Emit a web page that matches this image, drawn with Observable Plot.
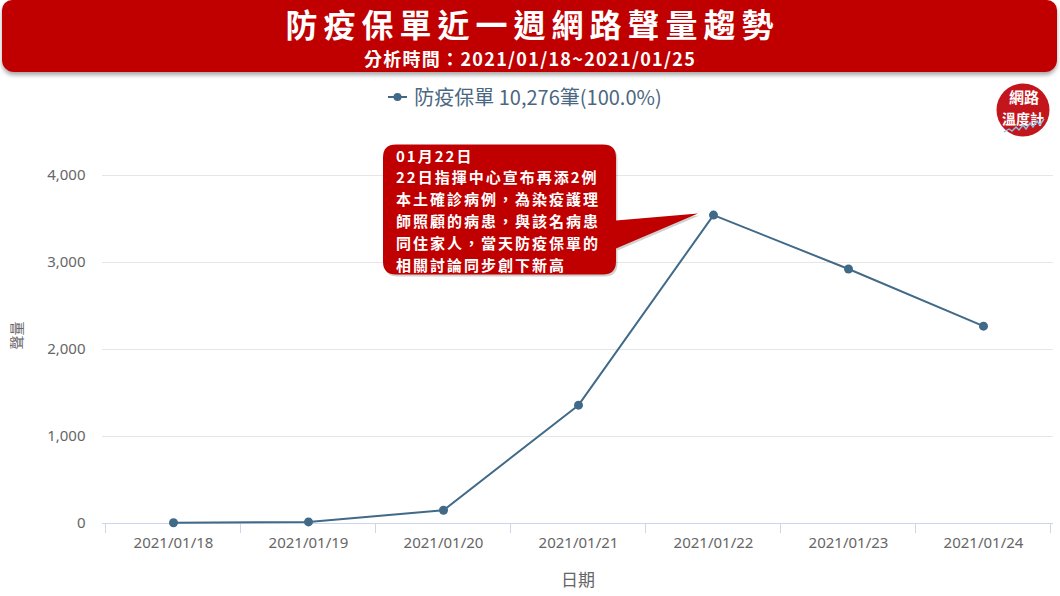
<!DOCTYPE html>
<html><head><meta charset="utf-8">
<script src="https://cdn.jsdelivr.net/npm/d3@7"></script>
<script src="https://cdn.jsdelivr.net/npm/@observablehq/plot@0.6"></script>
<style>
body{margin:0;background:#fff;font-family:"Noto Sans CJK TC","Noto Sans",sans-serif;}
#wrap{position:relative;width:1060px;height:596px;overflow:hidden;background:#fff;}
#header{position:absolute;left:2px;top:0;width:1055px;height:72px;background:#c00000;border-radius:10px 10px 12px 12px;box-shadow:0 3px 4px rgba(0,0,0,0.35);color:#fff;text-align:center;z-index:2;}
#title{position:absolute;top:5px;left:6px;right:0;font-size:32px;font-weight:bold;line-height:36px;letter-spacing:6px;}
#subtitle{position:absolute;top:48px;left:1px;right:0;font-size:18px;font-weight:bold;line-height:21px;letter-spacing:1.3px;}
#chart{position:absolute;left:0;top:80px;}
#legend{position:absolute;top:84px;left:-5px;width:1060px;display:flex;justify-content:center;align-items:center;color:#4a6781;font-size:20px;line-height:26px;z-index:2;}
#legend svg{margin-right:6px;}
#logo{position:absolute;left:996px;top:83px;z-index:2;}
</style>
</head><body>
<div id="wrap">
  <div id="header"><div id="title"></div><div id="subtitle"></div></div>
  <div id="legend"></div>
  <svg id="logo" width="54" height="54" viewBox="0 0 54 54">
    <circle cx="27" cy="27" r="26.5" fill="#c3161c"/>
    <text x="28" y="20" text-anchor="middle" fill="#fff" font-size="15" font-weight="bold" font-family="Noto Sans CJK TC">網路</text>
    <text x="27" y="41" text-anchor="middle" fill="#fff" font-size="14" font-weight="bold" font-family="Noto Sans CJK TC">溫度計</text>
    <polyline points="8,49 13,46 16,48 20,44 23,47 27,42 30,46 34,40 37,44 41,38 44,42 48,36" fill="none" stroke="#8cc0e6" stroke-width="1.4"/>
  </svg>
  <div id="chart"></div>
</div>
<script>
const titleText = "防疫保單近一週網路聲量趨勢";
const subtitleText = "分析時間：2021/01/18~2021/01/25";
const seriesName = "防疫保單";
const dates = ["2021/01/18","2021/01/19","2021/01/20","2021/01/21","2021/01/22","2021/01/23","2021/01/24"];
const values = [8, 18, 152, 1360, 3545, 2925, 2268];
const yTicks = [0, 1000, 2000, 3000, 4000];
const yLabel = "聲量";
const xLabel = "日期";
const calloutDate = "2021/01/22";
const calloutLines = ["01月22日","22日指揮中心宣布再添2例","本土確診病例，為染疫護理","師照顧的病患，與該名病患","同住家人，當天防疫保單的","相關討論同步創下新高"];

const lineColor = "#416a88";
document.getElementById("title").textContent = titleText;
document.getElementById("subtitle").textContent = subtitleText;
const total = d3.sum(values);
const legend = document.getElementById("legend");
legend.innerHTML = `<svg width="20" height="12"><line x1="0" x2="19" y1="6" y2="6" stroke="${lineColor}" stroke-width="2"/><circle cx="9.5" cy="6" r="4" fill="${lineColor}"/></svg><span></span>`;
legend.querySelector("span").textContent = `${seriesName} ${d3.format(",")(total)}筆(${(100).toFixed(1)}%)`;

const rows = dates.map((d, i) => ({date: d, value: values[i]}));

const boundaryTicks = (index, scales) => {
  const x = scales.x, y = scales.y;
  const step = x(dates[1]) - x(dates[0]);
  const y0 = y(0);
  const g = d3.create("svg:g");
  for (let i = 0; i <= dates.length; i++) {
    const tx = x(dates[0]) + (i - 0.5) * step;
    g.append("line").attr("x1", tx).attr("x2", tx).attr("y1", y0).attr("y2", y0 + 10)
      .attr("stroke", "#ccd6eb").attr("stroke-width", 1);
  }
  return g.node();
};

const callout = (index, scales) => {
  const x = scales.x, y = scales.y;
  const px = x(calloutDate), py = y(values[dates.indexOf(calloutDate)]);
  const L = px - 330, R = px - 97, T = py - 70, B = py + 60, r = 13;
  const path = `M${L + r},${T} H${R - r} Q${R},${T} ${R},${T + r} V${py + 6} L${px - 15},${py - 1} L${R},${py + 34} V${B - r} Q${R},${B} ${R - r},${B} H${L + r} Q${L},${B} ${L},${B - r} V${T + r} Q${L},${T} ${L + r},${T} Z`;
  const g = d3.create("svg:g");
  g.append("path").attr("d", path).attr("fill", "rgba(0,0,0,0.18)").attr("transform", "translate(1.5,2)");
  g.append("path").attr("d", path).attr("fill", "#c00000");
  const t = g.append("text").attr("fill", "#fff").attr("font-size", 15).attr("font-weight", "bold")
    .attr("text-anchor", "start").attr("letter-spacing", "2px")
    .attr("font-family", '"Noto Sans CJK TC",sans-serif');
  calloutLines.forEach((line, i) => {
    t.append("tspan").attr("x", L + 13).attr("y", T + 17 + i * 21.8).text(line);
  });
  return g.node();
};

const chart = Plot.plot({
  width: 1060,
  height: 516,
  marginTop: 95,
  marginBottom: 73,
  marginLeft: 102,
  marginRight: 7,
  style: {fontFamily: '"Noto Sans","Noto Sans CJK TC",sans-serif', fontSize: "15px", color: "#666", background: "transparent", overflow: "visible"},
  x: {type: "point", domain: dates, padding: 0.5, align: 0.5, label: null},
  y: {domain: [0, 4000], label: null},
  marks: [
    Plot.gridY(yTicks, {stroke: "#e6e6e6", strokeOpacity: 1}),
    Plot.ruleY([0], {stroke: "#ccd6eb", strokeWidth: 1}),
    boundaryTicks,
    Plot.axisY(yTicks, {tickSize: 0, tickPadding: 17, tickFormat: d3.format(","), fill: "#666", fontSize: 15, label: null}),
    Plot.axisX({tickSize: 0, tickPadding: 14, fill: "#666", fontSize: 15, label: null}),
    Plot.line(rows, {x: "date", y: "value", stroke: lineColor, strokeWidth: 2}),
    Plot.dot(rows, {x: "date", y: "value", r: 4.5, fill: lineColor}),
    Plot.text([yLabel], {text: d => d, frameAnchor: "left", dx: -85, rotate: -90, fill: "#666", fontSize: 14}),
    Plot.text([xLabel], {text: d => d, frameAnchor: "bottom", dy: 62, fill: "#666", fontSize: 17}),
    callout
  ]
});
document.getElementById("chart").appendChild(chart);
</script>
</body></html>
